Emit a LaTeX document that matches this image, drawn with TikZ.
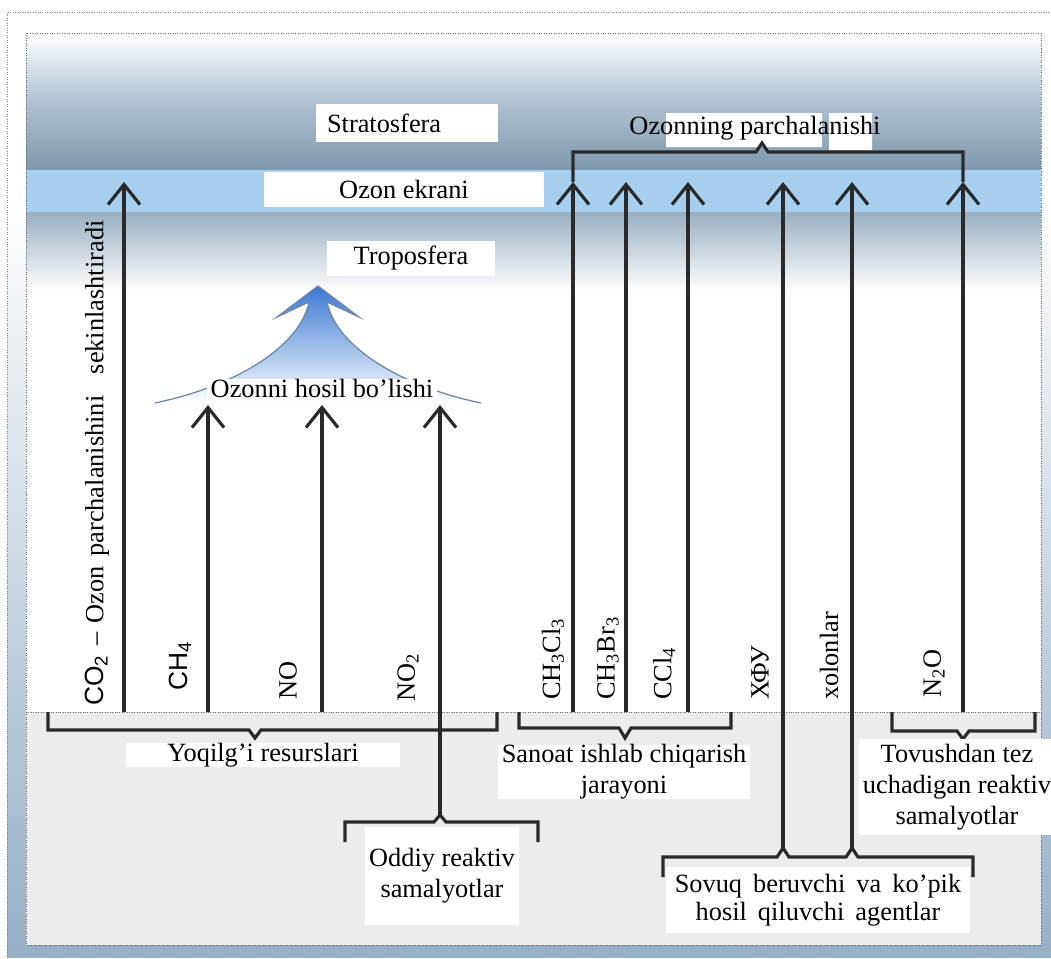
\documentclass[tikz,border=0pt]{standalone}
\usepackage{fontspec}
\setmainfont{Liberation Serif}
\setsansfont{Liberation Sans}
\usetikzlibrary{arrows.meta}
\definecolor{ink}{HTML}{2A2A2A}
\definecolor{skymid}{HTML}{B2C3D1}
\definecolor{skydark}{HTML}{7E97AB}
\definecolor{skylow}{HTML}{9AAFC0}
\definecolor{ozone}{HTML}{A9CFEE}
\definecolor{frameblue}{HTML}{97B0C6}
\definecolor{ground}{HTML}{ECECEC}
\definecolor{formblue}{HTML}{3A79D2}
\definecolor{formline}{HTML}{6F86A6}
\newcommand\sovfont{\fontsize{15}{15.9}\selectfont\spaceskip=0.42em\relax}

\begin{document}
\begin{tikzpicture}[x=0.02cm,y=-0.02cm,font=\fontsize{15}{17.6}\selectfont,
  arr/.style={line width=1.8pt,draw=ink,-{Straight Barb[length=0.4cm,width=0.64cm]}},
  brace/.style={line width=1.8pt,draw=ink},
  box/.style={fill=white,inner sep=0pt},
  vlbl/.style={rotate=90,anchor=west,inner sep=1pt}]
\useasboundingbox (0,0) rectangle (1051,958);
\fill[white] (0,0) rectangle (1051,958);
\shade[top color=white,bottom color=frameblue] (7,200) rectangle (26,945);
\shade[top color=white,bottom color=frameblue] (1041,200) rectangle (1051,945);
\fill[frameblue] (7,945) rectangle (1051,958);
\draw[gray,densely dotted] (7,958) -- (7,12) -- (1051,12);

\shade[top color=white,bottom color=skymid] (26,33) rectangle (1041,100);
\shade[top color=skymid,bottom color=skydark] (26,100) rectangle (1041,170);
\fill[ozone] (26,170) rectangle (1041,212);
\shade[top color=skylow,middle color=skylow!35!white,bottom color=white] (26,212) rectangle (1041,292);
\fill[ground] (26,712) rectangle (1041,945);
\draw[gray!80!black,densely dotted] (26,33) rectangle (1041,945) (26,712) -- (1041,712);

\shade[top color=formblue,middle color=formblue!70!white,bottom color=white] (155,403) .. controls (240,385) and (300,345) .. (309,302) -- (277,317) -- (318,286) -- (359,317) -- (327,302) .. controls (336,345) and (396,385) .. (481,403) -- cycle;
\draw[formline,line width=0.7pt] (155,403) .. controls (240,385) and (300,345) .. (309,302) -- (277,317) -- (318,286) -- (359,317) -- (327,302) .. controls (336,345) and (396,385) .. (481,403);

\node[box,minimum width=3.64cm,minimum height=0.76cm,text width=3.2cm] (strat) at (407,123) {Stratosfera};
\node[box,minimum width=5.62cm,minimum height=0.7cm] (ekran) at (404,189) {Ozon ekrani};
\node[box,minimum width=3.36cm,minimum height=0.7cm] (tropo) at (411,258) {Troposfera};
\fill[white] (666,113) rectangle (822,147) (829,113) rectangle (872,150);
\node (parch) at (755,128) {Ozonning parchalanishi};
\node[box,inner xsep=2pt] (hosil) at (322,388) {Ozonni hosil bo’lishi};

\foreach \n/\x/\b/\t in {co2/124/712/182, ch4/208/712/405, no/322/712/405, notwo/440/815/405,
  chcl/573/712/182, chbr/626/712/182, ccl/688/712/182, xfu/783/848/182, xol/852/848/182, ntwo/963/712/182} {
  \coordinate (\n-b) at (\x,\b);
  \coordinate (\n-t) at (\x,\t);
  \draw[arr] (\n-b) -- (\n-t);
}
\draw[brace] (chcl-t) -- (573,152) -- (756,152) -- (762,143) -- (768,152) -- (963,152) -- (ntwo-t);

\node[vlbl] (co2l) at (97,708) {\spaceskip=0.36em\relax{\sffamily CO\textsubscript{2}} – Ozon parchalanishini\hspace{0.45em} sekinlashtiradi};
\node[vlbl] (ch4l) at (180,693) {\sffamily CH\textsubscript{4}};
\node[vlbl] (nol) at (288,702) {NO};
\node[vlbl] (notwol) at (408,704) {NO\textsubscript{2}};
\node[vlbl] (chcll) at (553,702) {CH\textsubscript{3}Cl\textsubscript{3}};
\node[vlbl] (chbrl) at (608,702) {CH\textsubscript{3}Br\textsubscript{3}};
\node[vlbl] (ccll) at (664,702) {CCl\textsubscript{4}};
\node[vlbl] (xful) at (760,702) {ХФУ};
\node[vlbl] (xoll) at (829,702) {xolonlar};
\node[vlbl] (ntwol) at (934,700) {N\textsubscript{2}O};

\draw[brace] (48,712) -- (48,730) -- (249,730) -- (255,738) -- (261,730) -- (497,730) -- (497,712);
\draw[brace] (519,712) -- (519,728) -- (619,728) -- (625,738) -- (631,728) -- (731,728) -- (731,712);
\draw[brace] (892,712) -- (892,731) -- (957,731) -- (963,739) -- (969,731) -- (1035,731) -- (1035,712);
\draw[brace] (345,842) -- (345,822) -- (434,822) -- (notwo-b) -- (446,822) -- (538,822) -- (538,842);
\draw[brace] (663,877) -- (663,857) -- (777,857) -- (xfu-b) -- (789,857) -- (846,857) -- (xol-b) -- (858,857) -- (973,857) -- (973,877);

\node[box,minimum width=5.48cm,minimum height=0.48cm] (yoq) at (263,755) {Yoqilg’i resurslari};
\node[box,align=center,inner xsep=2pt] (sanoat) at (624,772) {Sanoat ishlab chiqarish\\jarayoni};
\node[box,align=center,inner xsep=2pt,inner ysep=3pt] (tovush) at (957,787) {Tovushdan tez\\uchadigan reaktiv\\samalyotlar};
\node[box,align=center,minimum width=3.08cm,minimum height=1.96cm] (oddiy) at (442,876) {Oddiy reaktiv\\samalyotlar};
\node[box,align=center,minimum width=6.1cm,minimum height=1.32cm,font=\sovfont] (sovuq) at (818,900) {Sovuq beruvchi va ko’pik\\hosil qiluvchi agentlar};
\end{tikzpicture}
\end{document}
